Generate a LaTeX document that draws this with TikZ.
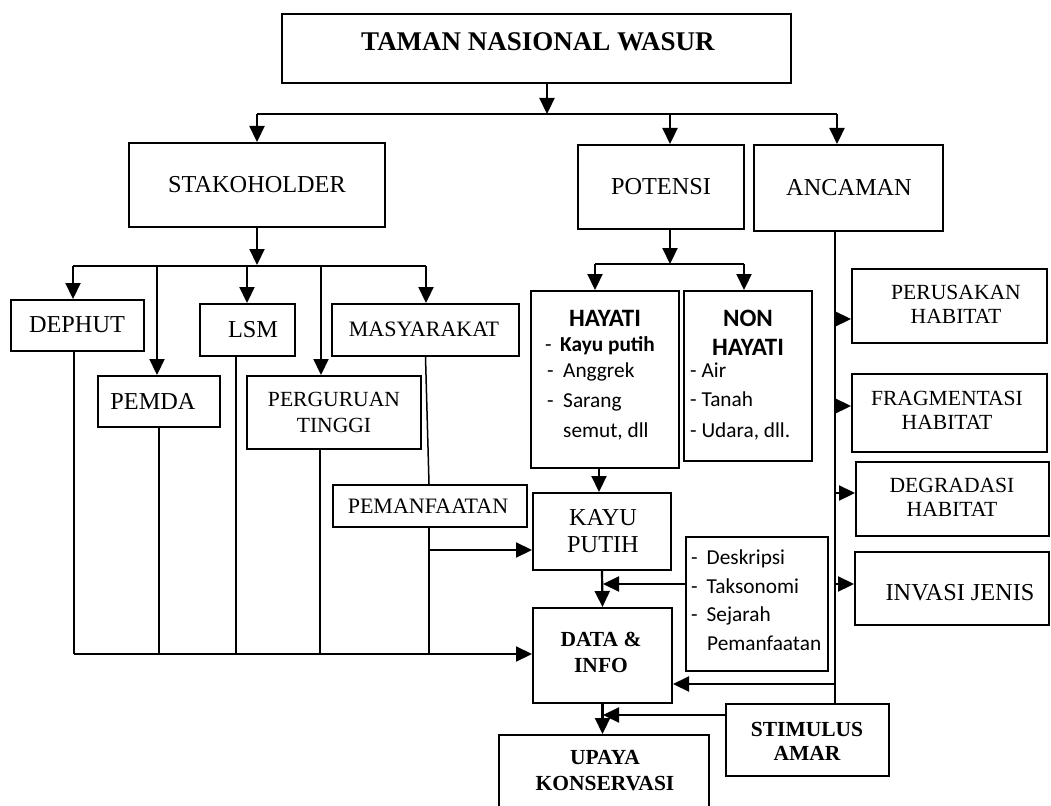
\documentclass[tikz,border=0pt]{standalone}
\usepackage{fontspec}
\setmainfont{Liberation Serif}
\newfontfamily\calfont{Carlito}
\usetikzlibrary{arrows.meta}
\tikzset{
  box/.style={draw, line width=2pt, inner sep=0pt},
  ln/.style={line width=2.2pt},
  thinln/.style={line width=1.5pt},
  arr/.style={line width=2.2pt, -{Triangle[length=16pt,width=15pt]}},
  ta/.style={font=\fontsize{24.3}{27}\selectfont, inner sep=0pt},
  tb/.style={font=\fontsize{21.6}{24}\selectfont, inner sep=0pt},
  tbold/.style={font=\fontsize{21.5}{26}\selectfont\bfseries, inner sep=0pt},
  ts/.style={font=\calfont\fontsize{21.3}{29}\selectfont, inner sep=0pt, anchor=mid west},
  cb/.style={font=\calfont\bfseries\fontsize{25}{29}\selectfont, inner sep=0pt},
}
\newcommand\bx[5]{%
  \pgfmathsetmacro\bxw{#4-#2}\pgfmathsetmacro\bxh{#5-#3}%
  \pgfmathsetmacro\bxx{(#2+#4)/2}\pgfmathsetmacro\bxy{(#3+#5)/2}%
  \node[box, minimum width=\bxw pt, minimum height=\bxh pt] (#1) at (\bxx,\bxy) {};}
\begin{document}
\begin{tikzpicture}[x=1pt,y=-1pt]
\useasboundingbox (0,0) rectangle (1051,805);
\clip (0,0) rectangle (1051,805);
% boxes
\bx{taman}{282}{14}{791}{83}
\bx{stako}{129}{143}{385}{227}
\bx{potensi}{578}{145}{744}{229}
\bx{ancaman}{754}{145}{943}{231}
\bx{dephut}{11}{300}{144}{351}
\bx{pemda}{98}{376}{220}{427}
\bx{lsm}{200}{304}{295}{356}
\bx{pt}{247}{376}{421}{449}
\bx{masy}{332}{304}{519}{356}
\bx{peman}{333}{485}{527}{527}
\bx{hayati}{531}{291}{679}{468}
\bx{nonhay}{684}{291}{812}{461}
\bx{kayu}{533}{493}{671}{570}
\bx{desk}{686}{537}{828}{671}
\bx{data}{533}{608}{672}{703}
\bx{upaya}{499}{735}{709}{830}
\bx{stim}{726}{704}{889}{776}
\bx{perus}{852}{269}{1047}{343}
\bx{frag}{852}{374}{1047}{452}
\bx{degr}{856}{462}{1049}{536}
\bx{invasi}{855}{552}{1049}{625}
% texts
\node[tbold, font=\fontsize{27}{30}\selectfont\bfseries] at (538,42) {TAMAN NASIONAL WASUR};
\node[ta] at (257,185) {STAKOHOLDER};
\node[ta] at (661,187) {POTENSI};
\node[ta] at (849,188) {ANCAMAN};
\node[ta] at (77,325) {DEPHUT};
\node[ta] at (153,401) {PEMDA};
\node[ta] at (253,330) {LSM};
\node[tb, font=\fontsize{22}{24}\selectfont] at (424,329) {MASYARAKAT};
\node[tb, align=center, font=\fontsize{21.6}{26}\selectfont] at (334,412) {PERGURUAN\\TINGGI};
\node[tb, font=\fontsize{22}{24}\selectfont] at (428,506) {PEMANFAATAN};
\node[ta, align=center] at (603,531) {KAYU\\PUTIH};
\node[tbold, align=center] at (601,652) {DATA \&\\INFO};
\node[tbold, align=center] at (605,771) {UPAYA\\KONSERVASI};
\node[tbold, align=center, font=\fontsize{21.5}{24}\selectfont\bfseries] at (807,741) {STIMULUS\\AMAR};
\node[ta] at (960,593) {INVASI JENIS};
\node[tb, align=center] at (956,304) {PERUSAKAN\\HABITAT};
\node[tb, align=center] at (947,410) {FRAGMENTASI\\HABITAT};
\node[tb, align=center] at (952,497) {DEGRADASI\\HABITAT};
\node[cb] at (605,318) {HAYATI};
\node[ts] at (545,349) {-\hspace{8.5pt}\textbf{Kayu putih}};
\node[ts] at (547,375) {-\hspace{9.5pt}Anggrek};
\node[ts] at (547,405) {-\hspace{9.5pt}Sarang};
\node[ts] at (563,435) {semut, dll};
\node[cb] at (748,318) {NON};
\node[cb] at (748,347) {HAYATI};
\node[ts] at (690,375) {- Air};
\node[ts] at (690,404) {- Tanah};
\node[ts] at (690,435) {- Udara, dll.};
\node[ts] at (691,562) {-\hspace{9pt}Deskripsi};
\node[ts] at (691,591) {-\hspace{9pt}Taksonomi};
\node[ts] at (691,619) {-\hspace{9pt}Sejarah};
\node[ts] at (707,648) {Pemanfaatan};
% top level connectors
\coordinate (t1) at (547,114);
\coordinate (c2) at (670,114);
\coordinate (c3) at (837,114);
\draw[arr] (taman.south -| t1) -- (t1);
\draw[ln] (stako.north |- t1) -- (c3);
\draw[arr] (stako.north |- t1) -- (stako.north);
\draw[arr] (c2) -- (c2 |- potensi.north);
\draw[arr] (c3) -- (c3 |- ancaman.north);
% stakeholders
\coordinate (s0) at (257,265);
\coordinate (d1) at (73,266);
\coordinate (d2) at (157,266);
\coordinate (d3) at (247,266);
\coordinate (d4) at (321,266);
\coordinate (d5) at (426,266);
\draw[arr] (stako.south) -- (s0);
\draw[ln] (d1) -- (d5);
\draw[arr] (d1) -- (d1 |- dephut.north);
\draw[arr] (d2) -- (d2 |- pemda.north);
\draw[arr] (d3) -- (d3 |- lsm.north);
\draw[arr] (d4) -- (d4 |- pt.north);
\draw[arr] (d5) -- (d5 |- masy.north);
\coordinate (e1) at (74,654);
\coordinate (e2) at (159,654);
\coordinate (e3) at (236,654);
\coordinate (e4) at (320,654);
\coordinate (e5) at (429,654);
\draw[thinln] (e1 |- dephut.south) -- (e1);
\draw[thinln] (e2 |- pemda.south) -- (e2);
\draw[thinln] (e3 |- lsm.south) -- (e3);
\draw[thinln] (e4 |- pt.south) -- (e4);
\draw[thinln] (masy.south) -- (e5 |- peman.north);
\draw[thinln] (e5 |- peman.south) -- (e5);
\draw[arr] (e1) -- (e1 -| data.west);
\coordinate (k1) at (429,550);
\draw[arr] (k1) -- (k1 -| kayu.west);
% potensi
\coordinate (p0) at (670,264);
\coordinate (h1) at (595,264);
\coordinate (h2) at (744,264);
\draw[arr] (potensi.south -| p0) -- (p0);
\draw[ln] (h1) -- (h2);
\draw[arr] (h1) -- (h1 |- hayati.north);
\draw[arr] (h2) -- (h2 |- nonhay.north);
\draw[arr] ([xshift=-6pt]hayati.south) -- ([xshift=-6pt]hayati.south |- kayu.north);
\draw[arr] (kayu.south) -- (data.north);
\coordinate (q1) at (603,584);
\draw[arr] (desk.west |- q1) -- (q1);
\draw[arr] (data.south) -- (data.south |- upaya.north);
\coordinate (q2) at (603,715);
\draw[arr] (stim.west |- q2) -- (q2);
% ancaman
\coordinate (r1) at (835,319);
\coordinate (r2) at (835,406);
\coordinate (r3) at (835,493);
\coordinate (r4) at (835,584);
\coordinate (r5) at (835,684);
\draw[ln] (ancaman.south -| r1) -- (r1 |- stim.north);
\draw[arr] (r1) -- (r1 -| perus.west);
\draw[arr] (r2) -- (r2 -| frag.west);
\draw[arr] (r3) -- (r3 -| degr.west);
\draw[arr] (r4) -- (r4 -| invasi.west);
\draw[arr] (r5) -- (r5 -| data.east);
\end{tikzpicture}
\end{document}
